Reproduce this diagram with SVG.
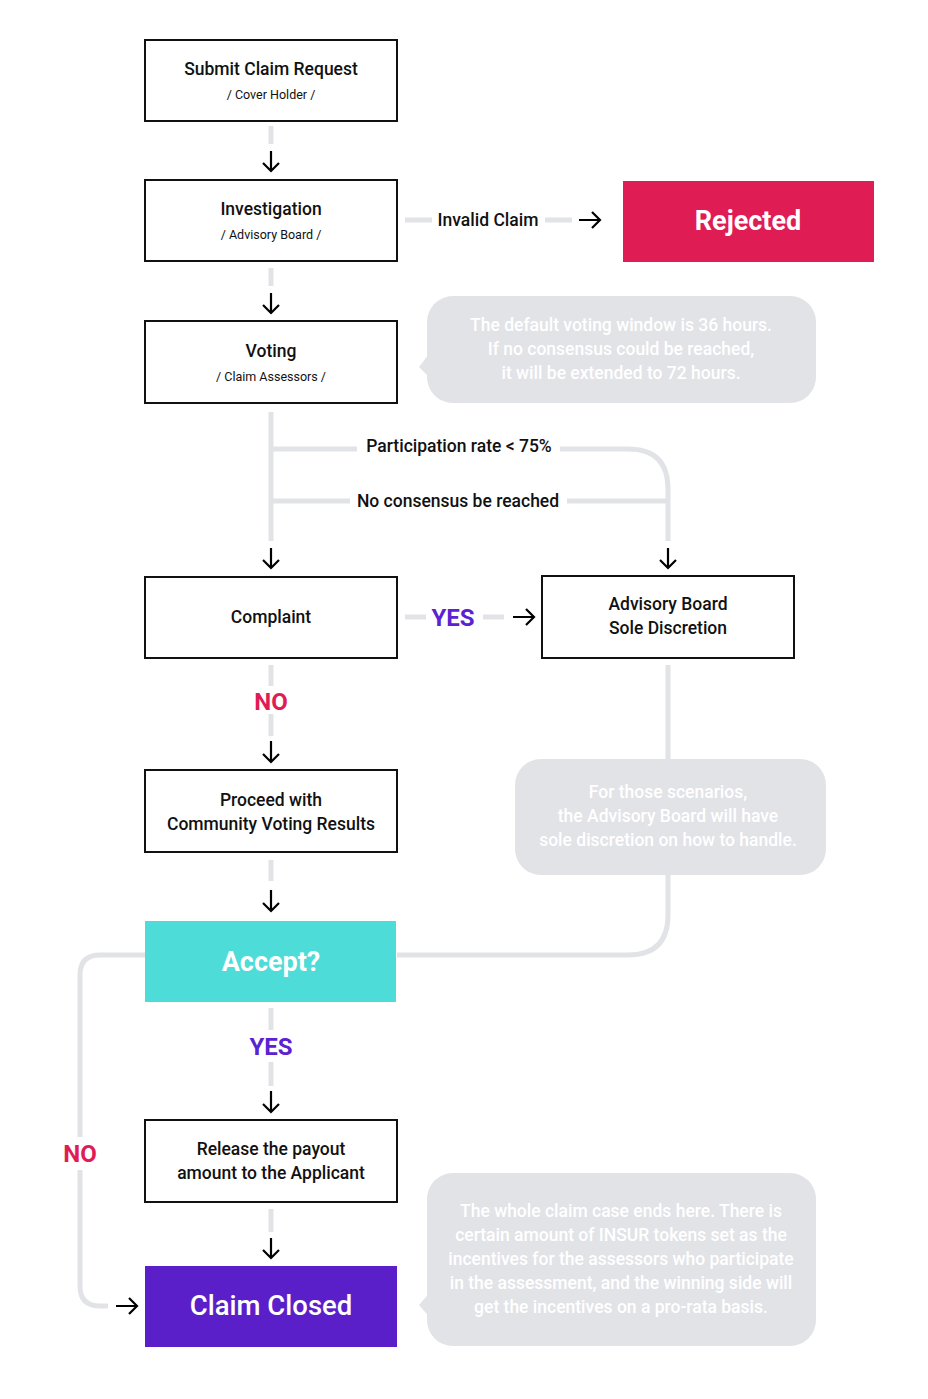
<svg xmlns="http://www.w3.org/2000/svg" width="928" height="1399" viewBox="0 0 928 1399">
<defs>
<style>
.box{fill:#fff;stroke:#111;stroke-width:2}
.ln{fill:none;stroke:#e2e3e7;stroke-width:5}
.ar{fill:none;stroke:#000;stroke-width:2.2}
.t{font-family:Roboto,"Liberation Sans",sans-serif;font-weight:500;font-size:17.5px;fill:#111;text-anchor:middle}
.s{font-family:Roboto,"Liberation Sans",sans-serif;font-size:12.5px;fill:#111;text-anchor:middle}
.big{font-family:Roboto,"Liberation Sans",sans-serif;font-weight:700;font-size:27px;fill:#fff;text-anchor:middle}
.yes{font-family:Roboto,"Liberation Sans",sans-serif;font-weight:700;font-size:24px;fill:#5b22d1;text-anchor:middle}
.no{font-family:Roboto,"Liberation Sans",sans-serif;font-weight:700;font-size:24px;fill:#e01c55;text-anchor:middle}
.bub{fill:#e2e3e7}
.bt{font-family:Roboto,"Liberation Sans",sans-serif;font-weight:500;font-size:17.5px;fill:#fff;text-anchor:middle}
</style>
</defs>
<rect width="928" height="1399" fill="#fff"/>
<g id="connectors">
<path class="ln" d="M271 126V144"/>
<path class="ln" d="M271 268V286"/>
<path class="ln" d="M405 220H432M545 220H572"/>
<path class="ln" d="M271 412V541"/>
<path class="ln" d="M271 449H357M560 449H628Q668 449 668 489V541"/>
<path class="ln" d="M271 501H350M567 501H668"/>
<path class="ln" d="M405 617H426M483 617H504"/>
<path class="ln" d="M271 665V686M271 714V736"/>
<path class="ln" d="M668 665V760M668 874V915Q668 955 628 955H397"/>
<path class="ln" d="M271 860V881"/>
<path class="ln" d="M145 955H100Q80 955 80 975V1137M80 1170V1286Q80 1306 100 1306H108"/>
<path class="ln" d="M271 1008V1030M271 1062V1086"/>
<path class="ln" d="M271 1209V1232"/>
<path class="ar" d="M271 151V171M263 163L271 171L279 163"/>
<path class="ar" d="M271 293V313M263 305L271 313L279 305"/>
<path class="ar" d="M579 220H600M592 212L600 220L592 228"/>
<path class="ar" d="M271 548V568M263 560L271 568L279 560"/>
<path class="ar" d="M668 548V568M660 560L668 568L676 560"/>
<path class="ar" d="M513 617H534M526 609L534 617L526 625"/>
<path class="ar" d="M271 741V762M263 754L271 762L279 754"/>
<path class="ar" d="M271 890V911M263 903L271 911L279 903"/>
<path class="ar" d="M271 1091V1112M263 1104L271 1112L279 1104"/>
<path class="ar" d="M271 1238V1258M263 1250L271 1258L279 1250"/>
<path class="ar" d="M116 1306H137M129 1298L137 1306L129 1314"/>
<text class="t" x="488" y="226">Invalid Claim</text>
<text class="t" x="459" y="452">Participation rate &lt; 75%</text>
<text class="t" x="458" y="507">No consensus be reached</text>
<text class="yes" x="453" y="626">YES</text>
<text class="no" x="271" y="710">NO</text>
<text class="yes" x="271" y="1055">YES</text>
<text class="no" x="80" y="1162">NO</text>
</g>
<g id="submit"><rect class="box" x="145" y="40" width="252" height="81"/><text class="t" x="271" y="75">Submit Claim Request</text><text class="s" x="271" y="99">/ Cover Holder /</text></g>
<g id="investigation"><rect class="box" x="145" y="180" width="252" height="81"/><text class="t" x="271" y="215">Investigation</text><text class="s" x="271" y="239">/ Advisory Board /</text></g>
<g id="rejected"><rect x="623" y="181" width="251" height="81" fill="#e01c55"/><text class="big" x="748" y="230">Rejected</text></g>
<g id="voting"><rect class="box" x="145" y="321" width="252" height="82"/><text class="t" x="271" y="357">Voting</text><text class="s" x="271" y="381">/ Claim Assessors /</text></g>
<g id="note-voting"><rect class="bub" x="427" y="296" width="389" height="107" rx="26"/><path class="bub" d="M432 350L419 367L432 380Z"/><text class="bt" x="621" y="331">The default voting window is 36 hours.</text><text class="bt" x="621" y="355">If no consensus could be reached,</text><text class="bt" x="621" y="379">it will be extended to 72 hours.</text></g>
<g id="complaint"><rect class="box" x="145" y="577" width="252" height="81"/><text class="t" x="271" y="623">Complaint</text></g>
<g id="advisory"><rect class="box" x="542" y="576" width="252" height="82"/><text class="t" x="668" y="610">Advisory Board</text><text class="t" x="668" y="634">Sole Discretion</text></g>
<g id="proceed"><rect class="box" x="145" y="770" width="252" height="82"/><text class="t" x="271" y="806">Proceed with</text><text class="t" x="271" y="830">Community Voting Results</text></g>
<g id="note-advisory"><rect class="bub" x="515" y="759" width="311" height="116" rx="26"/><text class="bt" x="668" y="798">For those scenarios,</text><text class="bt" x="668" y="822">the Advisory Board will have</text><text class="bt" x="668" y="846">sole discretion on how to handle.</text></g>
<g id="accept"><rect x="145" y="921" width="251" height="81" fill="#4ddcd8"/><text class="big" x="271" y="971">Accept?</text></g>
<g id="release"><rect class="box" x="145" y="1120" width="252" height="82"/><text class="t" x="271" y="1155">Release the payout</text><text class="t" x="271" y="1179">amount to the Applicant</text></g>
<g id="closed"><rect x="145" y="1266" width="252" height="81" fill="#5b1fc9"/><text class="big" x="271" y="1315" style="font-weight:500;font-size:27.5px">Claim Closed</text></g>
<g id="note-closed"><rect class="bub" x="427" y="1173" width="389" height="173" rx="26"/><path class="bub" d="M432 1290L419 1305L432 1320Z"/><text class="bt" x="621" y="1217">The whole claim case ends here. There is</text><text class="bt" x="621" y="1241">certain amount of INSUR tokens set as the</text><text class="bt" x="621" y="1265">incentives for the assessors who participate</text><text class="bt" x="621" y="1289">in the assessment, and the winning side will</text><text class="bt" x="621" y="1313">get the incentives on a pro-rata basis.</text></g>
</svg>
